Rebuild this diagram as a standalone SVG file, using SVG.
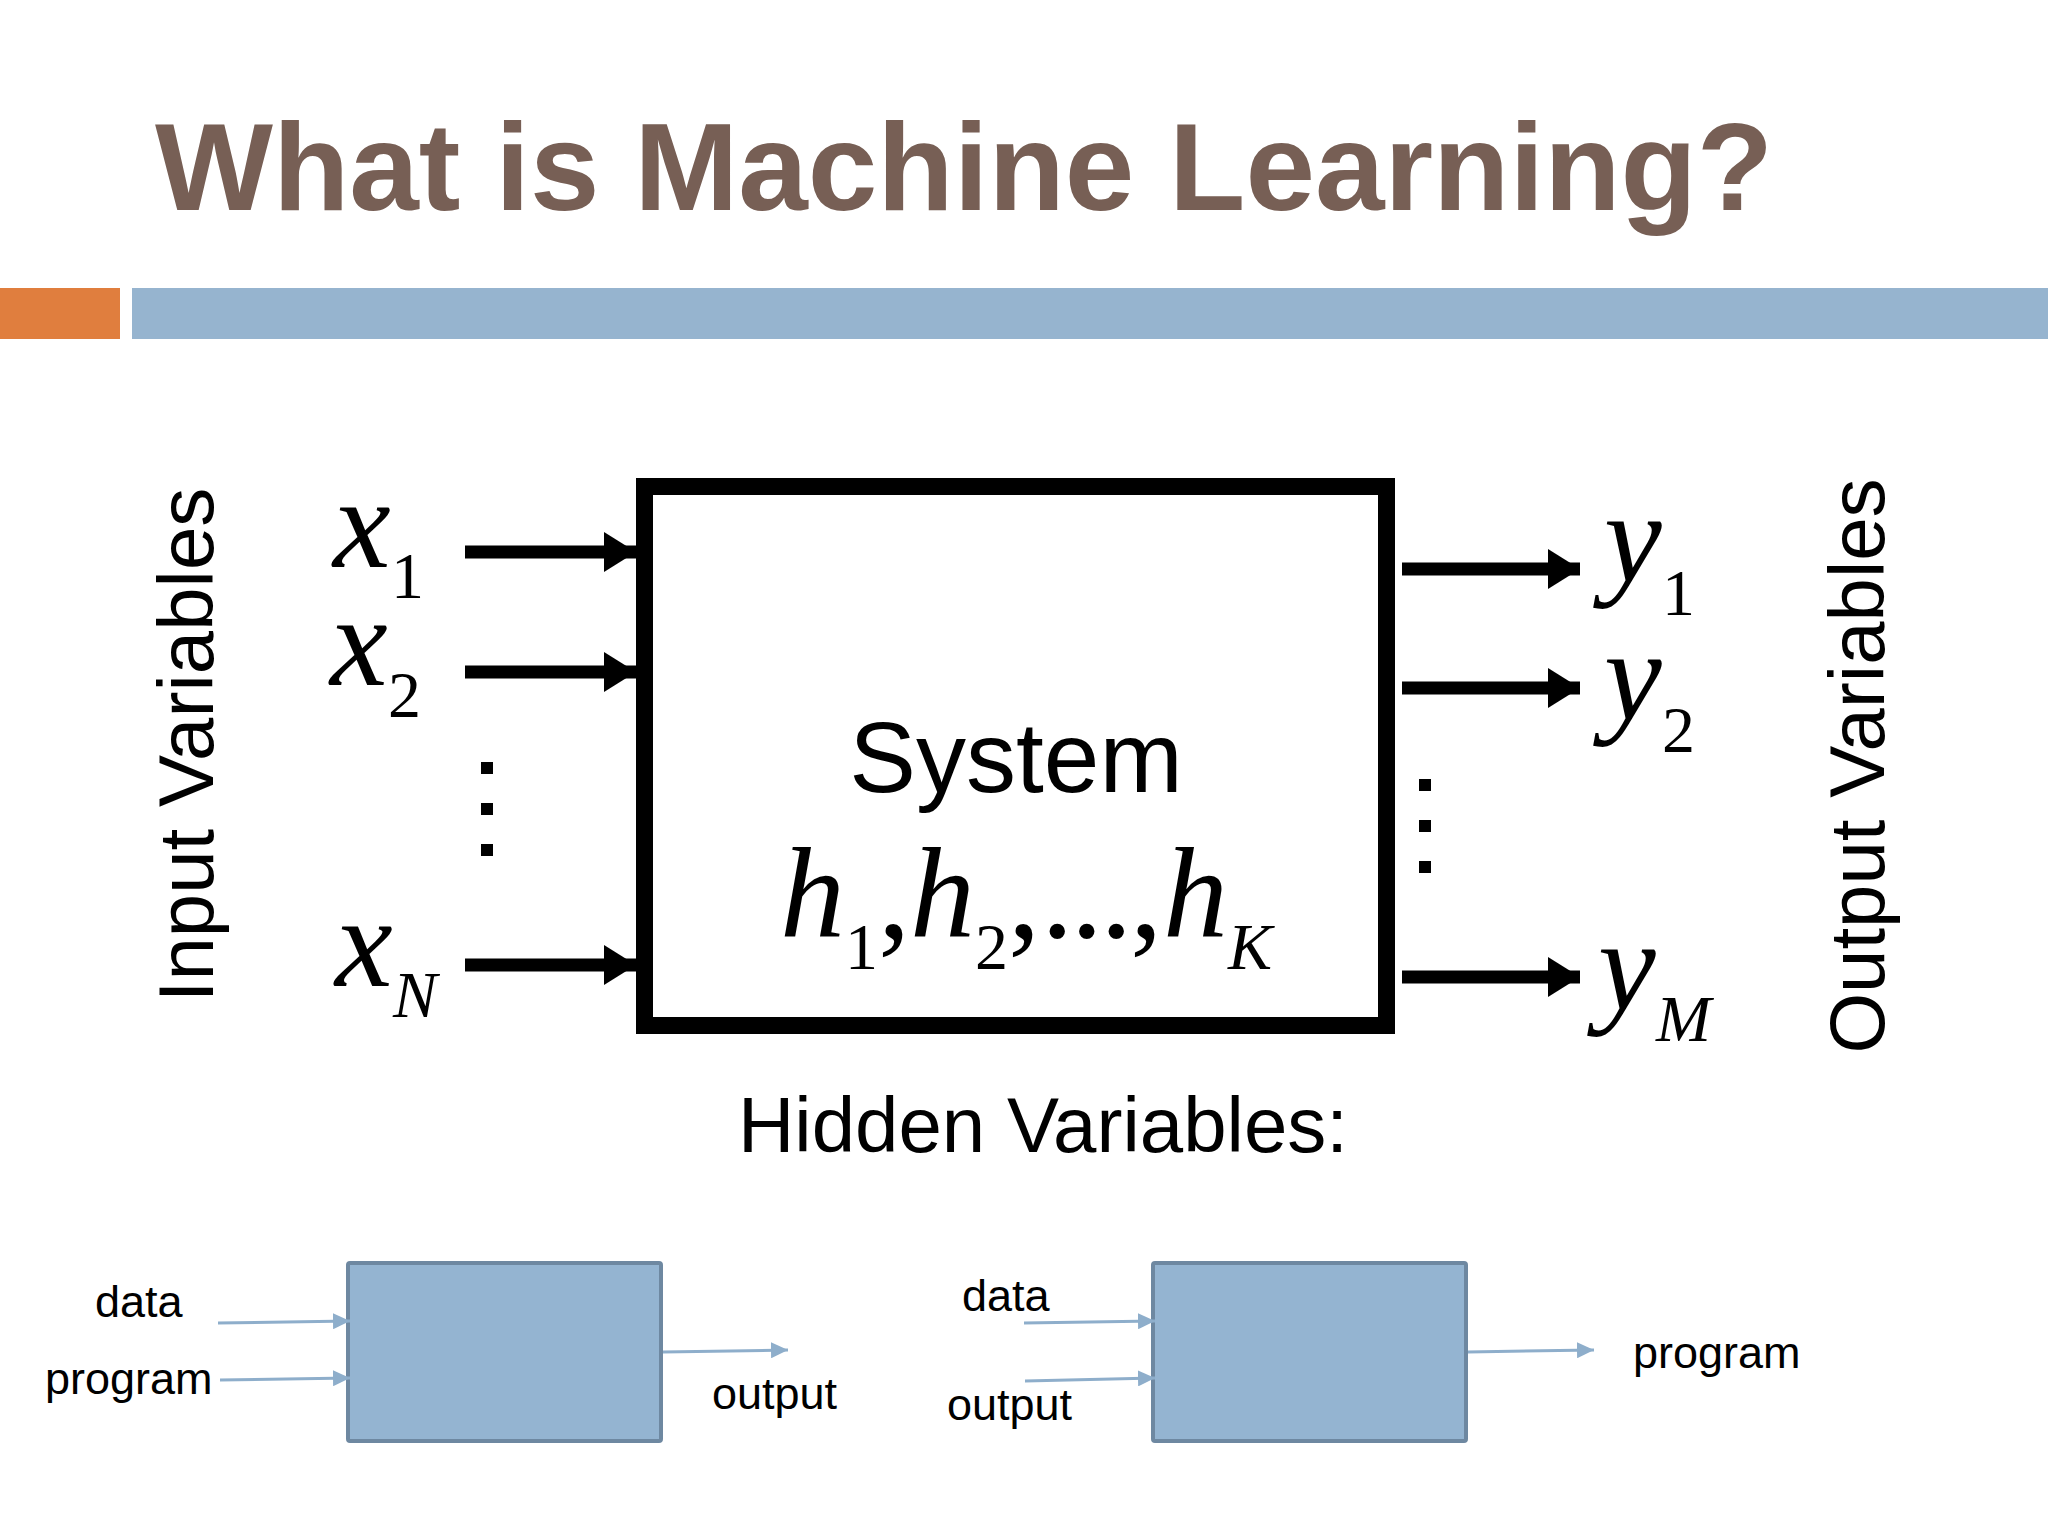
<svg xmlns="http://www.w3.org/2000/svg" width="2048" height="1536" viewBox="0 0 2048 1536">
<style>
.sans{font-family:"Liberation Sans",Arial,sans-serif;fill:#000}
.it{font-family:"Liberation Serif","Times New Roman",serif;font-style:italic;fill:#000}
.rm{font-family:"Liberation Serif","Times New Roman",serif;fill:#000}
.big{stroke:#000;stroke-width:13;fill:none}
.thin{stroke:#8EAECB;stroke-width:3;fill:none}
.sbox{fill:#94B4D1;stroke:#6E88A1;stroke-width:4}
.dot{fill:#000}
</style>
<defs>
<marker id="ah" markerUnits="userSpaceOnUse" markerWidth="34" markerHeight="40" viewBox="0 0 34 40" refX="32" refY="20" orient="auto">
<path d="M0,0 L32,20 L0,40 Z" fill="#000"/>
</marker>
<marker id="sh" markerUnits="userSpaceOnUse" markerWidth="18" markerHeight="16" viewBox="0 0 18 16" refX="17" refY="8" orient="auto">
<path d="M0,0 L17,8 L0,16 Z" fill="#8EAECB"/>
</marker>
</defs>
<rect width="2048" height="1536" fill="#fff"/>
<g id="title">
<text x="155" y="210" class="sans" style="font-size:125px;font-weight:bold;fill:#775F55">What is Machine Learning?</text>
<rect x="0" y="288" width="120" height="51" fill="#E07E3E"/>
<rect x="132" y="288" width="1916" height="51" fill="#96B4CF"/>
</g>
<g id="input-label"><text transform="translate(213,745) rotate(-90)" text-anchor="middle" class="sans" style="font-size:78px">Input Variables</text></g>
<g id="output-label"><text transform="translate(1884,766) rotate(-90)" text-anchor="middle" class="sans" style="font-size:78px">Output Variables</text></g>
<g id="system">
<rect x="644.5" y="486.5" width="742" height="539" fill="#fff" stroke="#000" stroke-width="17"/>
<text x="1016" y="792" text-anchor="middle" class="sans" style="font-size:100px">System</text>
<text y="937" style="font-size:130px">
<tspan x="780" class="it">h</tspan><tspan x="845" y="969" class="rm" style="font-size:66px">1</tspan><tspan x="878" y="937" class="rm">,</tspan><tspan x="910" class="it">h</tspan><tspan x="975" y="969" class="rm" style="font-size:66px">2</tspan><tspan x="1008" y="937" class="rm">,</tspan><tspan x="1041" class="rm" style="letter-spacing:-3px">...</tspan><tspan x="1130" class="rm">,</tspan><tspan x="1163" class="it">h</tspan><tspan x="1228" y="969" class="it" style="font-size:66px">K</tspan>
</text>
</g>
<g id="inputs">
<text x="333" y="567" class="it" style="font-size:130px">x</text><text x="391" y="598" class="rm" style="font-size:66px">1</text>
<text x="330" y="685" class="it" style="font-size:130px">x</text><text x="388" y="717" class="rm" style="font-size:66px">2</text>
<text x="335" y="986" class="it" style="font-size:130px">x</text><text x="393" y="1017" class="it" style="font-size:66px">N</text>
<rect class="dot" x="481" y="762" width="12" height="12"/>
<rect class="dot" x="481" y="803" width="12" height="12"/>
<rect class="dot" x="481" y="844" width="12" height="12"/>
</g>
<g id="outputs">
<text x="1604" y="581" class="it" style="font-size:130px">y</text><text x="1662" y="615" class="rm" style="font-size:66px">1</text>
<text x="1604" y="719" class="it" style="font-size:130px">y</text><text x="1662" y="752" class="rm" style="font-size:66px">2</text>
<text x="1598" y="1009" class="it" style="font-size:130px">y</text><text x="1656" y="1041" class="it" style="font-size:66px">M</text>
<rect class="dot" x="1419" y="779" width="12" height="12"/>
<rect class="dot" x="1419" y="820" width="12" height="12"/>
<rect class="dot" x="1419" y="861" width="12" height="12"/>
</g>
<g id="hidden"><text x="1043" y="1152" text-anchor="middle" class="sans" style="font-size:78px">Hidden Variables:</text></g>
<g id="box-traditional">
<rect class="sbox" x="348" y="1263" width="313" height="178" rx="2"/>
<text x="95" y="1317" class="sans" style="font-size:45px">data</text>
<text x="45" y="1394" class="sans" style="font-size:45px">program</text>
<text x="712" y="1409" class="sans" style="font-size:45px">output</text>
</g>
<g id="box-ml">
<rect class="sbox" x="1153" y="1263" width="313" height="178" rx="2"/>
<text x="962" y="1311" class="sans" style="font-size:45px">data</text>
<text x="947" y="1420" class="sans" style="font-size:45px">output</text>
<text x="1633" y="1368" class="sans" style="font-size:45px">program</text>
</g>
<g id="connectors">
<line class="big" x1="465" y1="552" x2="636" y2="552" marker-end="url(#ah)"/>
<line class="big" x1="465" y1="672" x2="636" y2="672" marker-end="url(#ah)"/>
<line class="big" x1="465" y1="965" x2="636" y2="965" marker-end="url(#ah)"/>
<line class="big" x1="1402" y1="569" x2="1580" y2="569" marker-end="url(#ah)"/>
<line class="big" x1="1402" y1="688" x2="1580" y2="688" marker-end="url(#ah)"/>
<line class="big" x1="1402" y1="977" x2="1580" y2="977" marker-end="url(#ah)"/>
<line class="thin" x1="218" y1="1323" x2="350" y2="1321" marker-end="url(#sh)"/>
<line class="thin" x1="220" y1="1380" x2="350" y2="1378" marker-end="url(#sh)"/>
<line class="thin" x1="663" y1="1352" x2="788" y2="1350" marker-end="url(#sh)"/>
<line class="thin" x1="1024" y1="1323" x2="1155" y2="1321" marker-end="url(#sh)"/>
<line class="thin" x1="1025" y1="1381" x2="1155" y2="1378" marker-end="url(#sh)"/>
<line class="thin" x1="1468" y1="1352" x2="1594" y2="1350" marker-end="url(#sh)"/>
</g>
</svg>
